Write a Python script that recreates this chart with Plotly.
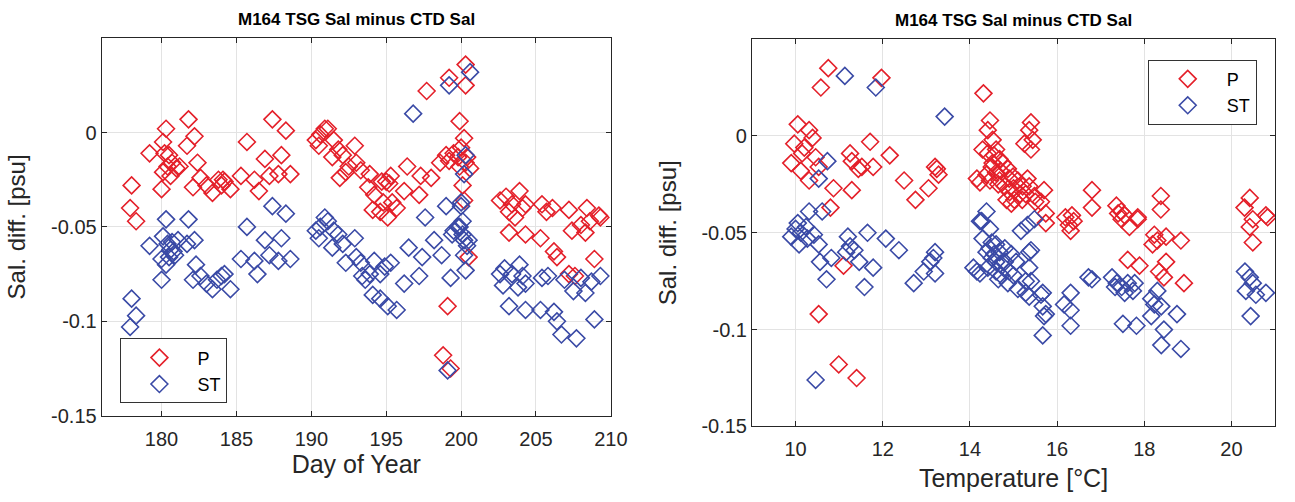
import plotly.graph_objects as go

# ---------------- data: left panel (Day of Year) ----------------
day_P = [178.0, 177.9, 178.3, 179.2, 180.3, 180.1, 180.2, 180.5, 180.7, 180.4, 181.0, 180.1, 180.0, 180.6, 181.2,
         181.8, 182.2, 181.7, 182.4, 182.6, 182.1, 183.0, 183.4, 183.8, 184.0, 184.2, 184.6, 184.1, 185.3, 185.7,
         186.2, 186.5, 186.9, 187.2, 187.4, 188.3, 188.0, 187.8, 188.6,
         190.3, 190.6, 190.9, 191.1, 190.5, 191.5, 191.8, 191.4, 192.1, 192.9, 192.5, 193.0, 193.3, 193.9, 193.8,
         194.2, 195.0, 194.8, 194.1, 194.6, 195.1, 195.3, 191.9, 192.3, 194.7, 195.2, 195.4, 195.7, 196.2, 196.4,
         197.2, 197.3, 198.0, 198.6, 199.0, 199.2, 199.5, 199.8, 200.0, 199.9, 200.3, 200.6, 200.1, 200.2, 200.5,
         200.3, 199.2, 200.3, 197.7, 199.1, 198.8, 199.3, 200.2, 199.9, 200.4,
         202.6, 203.0, 203.4, 203.9, 204.3, 205.4, 206.1, 207.2, 208.4, 209.2, 203.2, 203.6, 203.2, 204.3, 205.3,
         204.1, 205.7, 207.4, 208.0, 208.3, 208.6, 209.3, 206.2, 206.4, 207.2, 207.6, 208.9]
sal_P_day = [-0.028, -0.040, -0.047, -0.011, 0.002, -0.005, -0.011, -0.012, -0.016, -0.018, -0.019, -0.021, -0.030, -0.023, -0.018,
             0.007, -0.002, -0.007, -0.016, -0.024, -0.029, -0.028, -0.032, -0.025, -0.028, -0.026, -0.030, -0.025, -0.023, -0.005,
             -0.025, -0.031, -0.014, -0.023, 0.007, 0.001, -0.012, -0.022, -0.022,
             -0.004, -0.001, 0.002, 0.002, -0.007, -0.004, -0.009, -0.013, -0.012, -0.007, -0.018, -0.016, -0.020, -0.022, -0.029,
             -0.033, -0.026, -0.037, -0.041, -0.042, -0.045, -0.023, -0.024, -0.021, -0.026, -0.027, -0.037, -0.040, -0.031, -0.018,
             -0.033, -0.023, -0.024, -0.016, -0.012, -0.015, -0.011, -0.013, -0.008, 0.006, -0.016, -0.019, -0.028, -0.036, -0.066,
             0.036, 0.029, 0.025, 0.022, -0.092, -0.118, -0.125, -0.003, -0.018, -0.013,
             -0.036, -0.034, -0.038, -0.031, -0.038, -0.038, -0.040, -0.041, -0.040, -0.044, -0.042, -0.045, -0.053, -0.054, -0.056,
             -0.040, -0.042, -0.052, -0.049, -0.053, -0.047, -0.045, -0.063, -0.066, -0.075, -0.076, -0.067]

day_ST = [178.0, 178.3, 177.9, 179.2, 180.3, 180.1, 180.4, 180.6, 180.8, 180.0, 180.3, 181.1, 180.0, 181.8, 182.2,
          181.7, 182.3, 182.1, 182.6, 183.0, 183.4, 183.7, 184.0, 184.2, 184.6, 185.3, 185.7, 186.2, 186.4, 186.9,
          187.2, 187.4, 187.8, 188.0, 188.3, 188.6, 180.5, 180.7, 180.9,
          190.3, 190.6, 190.9, 191.1, 190.5, 191.5, 191.8, 191.4, 192.1, 192.9, 192.3, 193.0, 193.3, 193.9, 193.6,
          194.2, 194.9, 194.1, 194.6, 195.1, 193.4, 194.6, 195.3, 195.7, 196.2, 196.5, 197.2, 197.4, 197.6, 198.2,
          198.7, 196.8,
          199.3, 199.0, 199.4, 199.9, 200.1, 200.2, 200.3, 200.0, 200.3, 200.2, 200.0, 199.8, 200.1, 200.5, 199.5,
          200.6, 199.2, 199.1, 200.4, 200.2,
          202.6, 202.9, 203.4, 203.9, 204.1, 202.8, 203.8, 204.3, 203.2, 204.3, 205.3, 205.4, 205.8, 206.2, 206.4,
          206.7, 207.7, 206.9, 207.5, 208.0, 208.3, 208.7, 209.3, 208.9]
sal_ST_day = [-0.088, -0.097, -0.103, -0.060, -0.046, -0.055, -0.059, -0.062, -0.063, -0.067, -0.070, -0.057, -0.078, -0.046, -0.057,
              -0.059, -0.070, -0.078, -0.076, -0.080, -0.083, -0.078, -0.076, -0.075, -0.083, -0.067, -0.050, -0.068, -0.075, -0.057,
              -0.065, -0.039, -0.068, -0.056, -0.043, -0.067, -0.066, -0.058, -0.065,
              -0.052, -0.050, -0.045, -0.047, -0.056, -0.052, -0.054, -0.061, -0.059, -0.056, -0.069, -0.066, -0.069, -0.075, -0.078,
              -0.068, -0.071, -0.086, -0.088, -0.092, -0.076, -0.075, -0.069, -0.094, -0.080, -0.061, -0.076, -0.066, -0.045, -0.057,
              -0.065, 0.010,
              -0.077, -0.039, -0.054, -0.050, -0.047, -0.057, -0.073, -0.039, -0.012, -0.022, -0.037, -0.050, -0.054, -0.057, -0.052,
              0.032, 0.025, -0.126, -0.060, -0.065,
              -0.075, -0.072, -0.075, -0.070, -0.076, -0.081, -0.082, -0.080, -0.092, -0.094, -0.094, -0.077, -0.076, -0.095, -0.100,
              -0.107, -0.109, -0.078, -0.084, -0.077, -0.085, -0.079, -0.076, -0.099]

# ---------------- data: right panel (Temperature) ----------------
temp_P = [10.75, 10.58, 11.97, 10.05, 10.31, 10.39, 9.97, 10.20, 10.15, 9.90, 10.12, 10.31, 10.46, 10.53, 10.87,
          10.80, 11.29, 11.25, 11.29, 11.44, 11.52, 11.71, 11.78, 12.16, 12.49, 12.75, 13.05, 13.24, 13.20, 13.28,
          14.31, 10.53, 10.99, 11.40, 11.10,
          14.46, 14.41, 14.52, 14.29, 14.41, 14.60, 14.68, 14.52, 14.75, 14.87, 14.16, 14.23, 14.38, 14.46, 14.68,
          14.80, 14.99, 15.10, 14.91, 15.02, 15.21, 15.32, 15.36, 15.28, 15.40, 15.36, 15.44, 15.25, 15.40, 15.48,
          15.70, 15.63, 15.74, 15.74, 16.19, 16.27, 16.34, 16.38, 16.31, 16.80, 16.80, 14.84, 14.95, 15.20, 15.50,
          14.50, 14.60, 14.70, 14.90, 15.00, 14.55, 14.65, 15.15,
          17.36, 17.47, 17.85, 18.38, 18.38, 20.42, 20.30, 20.79, 17.40, 17.55, 17.66, 18.23, 18.30, 18.19, 18.50,
          18.84, 18.50, 18.34, 17.62, 17.89, 18.45, 18.91, 20.49, 20.42, 20.83, 20.49, 17.48, 17.85]
sal_P_temp = [0.035, 0.025, 0.030, 0.006, 0.003, -0.001, -0.004, -0.006, -0.009, -0.014, -0.018, -0.023, -0.011, -0.016, -0.027,
              -0.037, -0.028, -0.009, -0.013, -0.017, -0.016, -0.003, -0.016, -0.010, -0.023, -0.033, -0.027, -0.017, -0.016, -0.020,
              0.022, -0.092, -0.118, -0.125, -0.067,
              0.008, 0.003, -0.002, -0.007, -0.009, -0.007, -0.012, -0.014, -0.014, -0.017, -0.022, -0.024, -0.020, -0.023, -0.023,
              -0.026, -0.021, -0.023, -0.029, -0.033, -0.026, -0.022, -0.026, -0.030, 0.007, 0.003, -0.002, -0.004, -0.007, -0.031,
              -0.028, -0.034, -0.040, -0.045, -0.042, -0.046, -0.041, -0.044, -0.049, -0.028, -0.037, -0.033, -0.035, -0.033, -0.034,
              -0.016, -0.019, -0.018, -0.022, -0.027, -0.010, -0.025, -0.030,
              -0.036, -0.039, -0.042, -0.031, -0.038, -0.032, -0.037, -0.041, -0.040, -0.041, -0.047, -0.051, -0.054, -0.056, -0.052,
              -0.054, -0.065, -0.070, -0.064, -0.067, -0.073, -0.076, -0.043, -0.047, -0.042, -0.055, -0.043, -0.043]

temp_ST = [11.13, 11.84, 13.42, 10.73, 10.53, 10.31, 10.05, 9.90, 10.00, 10.12, 10.24, 10.08, 10.27, 10.42, 10.53,
           10.61, 10.56, 10.71, 10.82, 11.20, 11.25, 11.16, 11.35, 11.46, 11.65, 11.78, 11.58, 12.07, 12.37, 12.71,
           12.94, 13.09, 13.20, 13.16, 13.20, 10.46,
           14.23, 14.16, 14.38, 14.27, 14.46, 14.29, 14.50, 14.60, 14.38, 14.56, 14.68, 14.08, 14.23, 14.41, 14.60,
           14.80, 14.95, 15.06, 14.72, 14.87, 15.10, 15.28, 15.36, 15.40, 15.32, 15.17, 15.48, 15.28, 15.67, 15.67,
           15.74, 16.16, 16.31, 16.31, 16.80, 17.33, 15.36, 15.40, 15.36, 15.63, 15.70, 15.67, 16.31, 16.72,
           14.50, 14.60, 14.70, 14.45, 14.90, 14.65, 15.00, 14.80,
           17.26, 17.37, 17.48, 17.62, 17.74, 17.55, 17.78, 17.51, 17.82, 18.16, 18.23, 18.16, 18.39, 18.30, 18.45,
           18.39, 18.75, 18.84, 20.31, 20.42, 20.49, 20.33, 20.56, 20.79, 20.44]
sal_ST_temp = [0.031, 0.025, 0.010, -0.013, -0.022, -0.039, -0.045, -0.052, -0.048, -0.050, -0.047, -0.056, -0.053, -0.051, -0.056,
               -0.039, -0.065, -0.074, -0.063, -0.052, -0.057, -0.060, -0.059, -0.065, -0.050, -0.068, -0.078, -0.053, -0.059, -0.076,
               -0.070, -0.065, -0.060, -0.063, -0.071, -0.126,
               -0.044, -0.070, -0.039, -0.044, -0.048, -0.053, -0.055, -0.056, -0.060, -0.061, -0.060, -0.068, -0.071, -0.068, -0.065,
               -0.065, -0.061, -0.065, -0.072, -0.076, -0.079, -0.075, -0.068, -0.059, -0.046, -0.049, -0.043, -0.081, -0.081, -0.088,
               -0.092, -0.087, -0.081, -0.090, -0.074, -0.078, -0.060, -0.075, -0.083, -0.082, -0.093, -0.103, -0.098, -0.073,
               -0.063, -0.070, -0.066, -0.058, -0.070, -0.074, -0.072, -0.058,
               -0.073, -0.076, -0.078, -0.076, -0.080, -0.081, -0.076, -0.097, -0.098, -0.084, -0.087, -0.093, -0.088, -0.080, -0.100,
               -0.108, -0.092, -0.110, -0.070, -0.073, -0.076, -0.080, -0.082, -0.081, -0.093]

title_text = "M164 TSG Sal minus CTD Sal"
ytitle = "Sal. diff. [psu]"
day_ticks = [180, 185, 190, 195, 200, 205, 210]
temp_ticks = [10, 12, 14, 16, 18, 20]
sal_ticks = [-0.15, -0.1, -0.05, 0]
sal_ticklabels = ["-0.15", "-0.1", "-0.05", "0"]

RED = "#E4202A"
BLUE = "#3A4AA6"
FONT = "Liberation Sans, Arial, Helvetica, sans-serif"
AXC = "#262626"
TICKSIZE = 20
XLABELSIZE = 25
YLABELSIZE = 24

W, H = 1295, 502


def mk(x, y, name, color, xa, ya, legend, show=True):
    return go.Scatter(
        x=x, y=y, mode="markers", name=name,
        marker=dict(symbol="diamond-open", size=13, color=color, line=dict(color=color, width=1.6)),
        xaxis=xa, yaxis=ya, legend=legend, showlegend=show, cliponaxis=True,
    )


fig = go.Figure()
fig.add_trace(mk(day_P, sal_P_day, "P", RED, "x", "y", "legend"))
fig.add_trace(mk(day_ST, sal_ST_day, "ST", BLUE, "x", "y", "legend"))
fig.add_trace(mk(temp_P, sal_P_temp, "P", RED, "x2", "y2", "legend2"))
fig.add_trace(mk(temp_ST, sal_ST_temp, "ST", BLUE, "x2", "y2", "legend2"))

axis_common = dict(
    showgrid=True, gridcolor="#e3e3e3", gridwidth=1, zeroline=False,
    showline=True, mirror="ticks", linecolor=AXC, linewidth=1,
    ticks="inside", ticklen=5, tickcolor=AXC,
    tickfont=dict(family=FONT, size=TICKSIZE, color=AXC),
)

# plot area pixels: left 103..619 x, 39..425 y ; right 762..1292 x, 40..436 y
fig.update_layout(
    width=W, height=H,
    margin=dict(l=0, r=0, t=0, b=0),
    paper_bgcolor="white", plot_bgcolor="white",
    font=dict(family=FONT, color=AXC),
    xaxis=dict(domain=[103 / W, 619 / W], range=[176, 210], tickvals=day_ticks, anchor="y",
               ticklabelstandoff=5,
               title=dict(text="Day of Year", font=dict(size=XLABELSIZE, color=AXC), standoff=3), **axis_common),
    yaxis=dict(domain=[(H - 425) / H, (H - 39) / H], range=[-0.15, 0.05], tickvals=sal_ticks,
               ticktext=sal_ticklabels, anchor="x",
               title=dict(text=ytitle, font=dict(size=YLABELSIZE, color=AXC), standoff=18), **axis_common),
    xaxis2=dict(domain=[762 / W, 1292 / W], range=[9, 21], tickvals=temp_ticks, anchor="y2",
                ticklabelstandoff=5,
                title=dict(text="Temperature [°C]", font=dict(size=XLABELSIZE, color=AXC), standoff=10), **axis_common),
    yaxis2=dict(domain=[(H - 436) / H, (H - 40) / H], range=[-0.15, 0.05], tickvals=sal_ticks,
                ticktext=sal_ticklabels, anchor="x2",
                title=dict(text=ytitle, font=dict(size=YLABELSIZE, color=AXC), standoff=17), **axis_common),
    legend=dict(x=122 / W, y=1 - 346 / H, xanchor="left", yanchor="top",
                bgcolor="white", bordercolor="#333333", borderwidth=1,
                font=dict(family=FONT, size=18, color="black"), itemwidth=66, tracegroupgap=0),
    legend2=dict(x=1163 / W, y=1 - 61 / H, xanchor="left", yanchor="top",
                 bgcolor="white", bordercolor="#333333", borderwidth=1,
                 font=dict(family=FONT, size=18, color="black"), itemwidth=68, tracegroupgap=0),
    annotations=[
        dict(text="<b>" + title_text + "</b>", xref="x domain", yref="y domain", x=0.5, y=1,
             xanchor="center", yanchor="bottom", yshift=7, showarrow=False,
             font=dict(family=FONT, size=17, color="black")),
        dict(text="<b>" + title_text + "</b>", xref="x2 domain", yref="y2 domain", x=0.5, y=1,
             xanchor="center", yanchor="bottom", yshift=7, showarrow=False,
             font=dict(family=FONT, size=17, color="black")),
    ],
)

fig.write_html("out.html")
